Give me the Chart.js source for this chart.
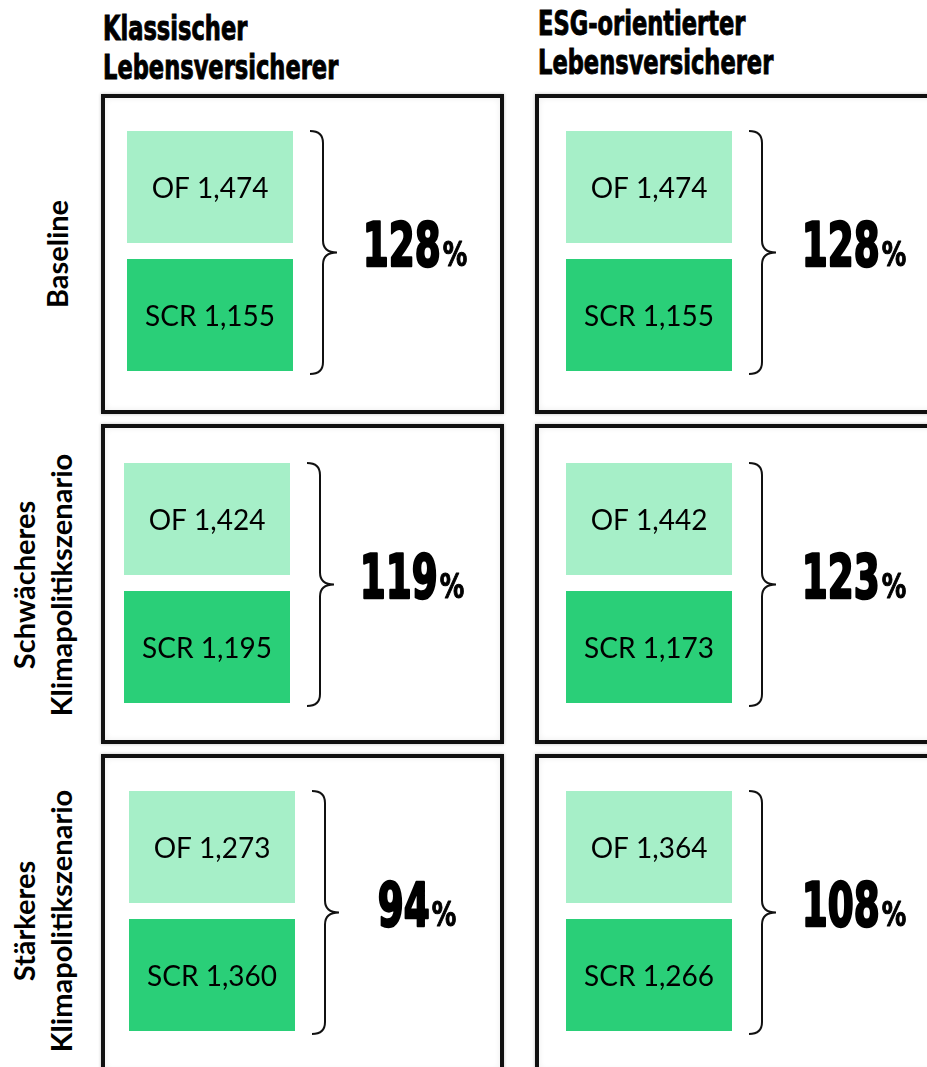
<!DOCTYPE html>
<html lang="de">
<head>
<meta charset="utf-8">
<title>Solvenzquote nach Klimaszenario</title>
<script src="https://cdn.jsdelivr.net/npm/chart.js@4.4.1/dist/chart.umd.min.js"></script>
<style>
  html, body { margin: 0; padding: 0; background: #fff; }
  body { width: 927px; height: 1067px; position: relative; overflow: hidden; }
  .head {
    position: absolute;
    font-family: 'DejaVu Sans Condensed', 'DejaVu Sans', sans-serif;
    font-weight: bold; font-size: 33px; line-height: 39px;
    color: #000; white-space: nowrap;
    -webkit-text-stroke: 0.9px #000;
    transform: scaleX(0.76); transform-origin: 0 0;
  }
  .row {
    position: absolute;
    font-family: Lato, sans-serif; font-weight: bold;
    font-size: 29px; line-height: 37px; text-align: center;
    white-space: nowrap; color: #000;
    transform: translate(-50%, -50%) rotate(-90deg);
  }
  .box {
    position: absolute; box-sizing: border-box;
    border: 4px solid #111; background: #fff;
    box-shadow: inset 0 0 6px rgba(0,0,0,0.08), 0 0 3px rgba(0,0,0,0.25);
  }
  canvas { position: absolute; }
</style>
</head>
<body>
<script>
// column headers and scenario names
const columns = [['Klassischer', 'Lebensversicherer'], ['ESG-orientierter', 'Lebensversicherer']];
const scenarios = [['Baseline'], ['Schwächeres', 'Klimapolitikszenario'], ['Stärkeres', 'Klimapolitikszenario']];
const cellLabels = ['OF', 'SCR'];

// OF / SCR per scenario (Baseline, schwächer, stärker)
const ofKlassisch = [1.474, 1.424, 1.273];
const scrKlassisch = [1.155, 1.195, 1.360];
const ratioKlassisch = [128, 119, 94];

const ofEsg = [1.474, 1.442, 1.364];
const scrEsg = [1.155, 1.173, 1.266];
const ratioEsg = [128, 123, 108];

const OF_COLOR = '#a6efc8';
const SCR_COLOR = '#2acf78';
const BIG_FONT = '"DejaVu Sans Condensed", "DejaVu Sans", sans-serif';

// page layout (pixels)
const boxLeft = [101, 535];
const boxTop = [94, 424, 754];
const headPos = [[103, 9], [538, 4]];
const rowCenter = [[56, 254], [42, 585], [42, 921]];
const cellLeft = [[127, 124, 129], [566, 566, 566]];
const cellTop = [131, 463, 791];

function fmt(v) {
  return v.toFixed(3).replace('.', ',');
}

// headers
columns.forEach((lines, c) => {
  const d = document.createElement('div');
  d.className = 'head';
  d.style.left = headPos[c][0] + 'px';
  d.style.top = headPos[c][1] + 'px';
  d.innerHTML = lines.join('<br>');
  document.body.appendChild(d);
});

// row labels
scenarios.forEach((lines, r) => {
  const d = document.createElement('div');
  d.className = 'row';
  d.style.left = rowCenter[r][0] + 'px';
  d.style.top = rowCenter[r][1] + 'px';
  d.innerHTML = lines.join('<br>');
  document.body.appendChild(d);
});

// text in cells, brace and ratio
const panelLabels = {
  id: 'panelLabels',
  afterDatasetsDraw(chart, args, opts) {
    const ctx = chart.ctx;
    const area = chart.chartArea;
    const ofBar = chart.getDatasetMeta(0).data[0];
    const scrBar = chart.getDatasetMeta(1).data[1];
    ctx.save();
    ctx.fillStyle = '#000';
    ctx.font = '28px Lato';
    ctx.textAlign = 'center';
    ctx.textBaseline = 'alphabetic';
    ctx.fillText(cellLabels[0] + ' ' + fmt(opts.of), (ofBar.base + ofBar.x) / 2, ofBar.y + 11);
    ctx.fillText(cellLabels[1] + ' ' + fmt(opts.scr), (scrBar.base + scrBar.x) / 2, scrBar.y + 11);

    // curly brace
    const top = ofBar.y - ofBar.height / 2;
    const bottom = scrBar.y + scrBar.height / 2 + 3;
    const mid = (top + bottom) / 2;
    const x0 = area.right + 17, x1 = area.right + 30, x2 = area.right + 44;
    const k = 12;
    ctx.beginPath();
    ctx.moveTo(x0, top);
    ctx.quadraticCurveTo(x1, top, x1, top + k);
    ctx.lineTo(x1, mid - k);
    ctx.quadraticCurveTo(x1, mid, x2, mid);
    ctx.quadraticCurveTo(x1, mid, x1, mid + k);
    ctx.lineTo(x1, bottom - k);
    ctx.quadraticCurveTo(x1, bottom, x0, bottom);
    ctx.lineWidth = 2;
    ctx.strokeStyle = '#111';
    ctx.stroke();

    // ratio
    const cx = area.right + 122;
    const base = mid + 13;
    const sx = 0.68, px = 0.8;
    const digits = String(opts.ratio);
    ctx.textAlign = 'left';
    ctx.strokeStyle = '#000';
    ctx.lineJoin = 'round';
    ctx.font = 'bold 61px ' + BIG_FONT;
    const dw = ctx.measureText(digits).width * sx;
    ctx.font = 'bold 34px ' + BIG_FONT;
    const pw = ctx.measureText('%').width * px;
    const start = cx - (dw + pw + 2) / 2;
    ctx.save();
    ctx.translate(start, base);
    ctx.scale(sx, 1);
    ctx.font = 'bold 61px ' + BIG_FONT;
    ctx.lineWidth = 2.5;
    ctx.fillText(digits, 0, 0);
    ctx.strokeText(digits, 0, 0);
    ctx.restore();
    ctx.save();
    ctx.translate(start + dw + 2, base);
    ctx.scale(px, 1);
    ctx.font = 'bold 34px ' + BIG_FONT;
    ctx.lineWidth = 1;
    ctx.fillText('%', 0, 0);
    ctx.strokeText('%', 0, 0);
    ctx.restore();
    ctx.restore();
  }
};

function makePanel(c, r) {
  const of = c === 0 ? ofKlassisch : ofEsg;
  const scr = c === 0 ? scrKlassisch : scrEsg;
  const ratio = c === 0 ? ratioKlassisch : ratioEsg;

  const box = document.createElement('div');
  box.className = 'box';
  box.style.left = boxLeft[c] + 'px';
  box.style.top = boxTop[r] + 'px';
  box.style.width = '403px';
  box.style.height = '320px';
  document.body.appendChild(box);

  const canvas = document.createElement('canvas');
  const ox = boxLeft[c] + 4, oy = boxTop[r] + 4;
  canvas.width = 395;
  canvas.height = 312;
  canvas.style.left = ox + 'px';
  canvas.style.top = oy + 'px';
  document.body.appendChild(canvas);

  const left = cellLeft[c][r] - ox;
  const top = cellTop[r] - 8 - oy;

  new Chart(canvas, {
    type: 'bar',
    data: {
      labels: cellLabels,
      datasets: [
        { label: 'OF', data: [of[r], null], xAxisID: 'xOF', backgroundColor: OF_COLOR },
        { label: 'SCR', data: [null, scr[r]], xAxisID: 'xSCR', backgroundColor: SCR_COLOR }
      ]
    },
    options: {
      indexAxis: 'y',
      responsive: false,
      animation: false,
      devicePixelRatio: 1,
      grouped: false,
      barPercentage: 0.875,
      categoryPercentage: 1,
      layout: {
        padding: { left: left, top: top, right: 395 - left - 166, bottom: 312 - top - 256 }
      },
      scales: {
        y: { type: 'category', display: false },
        xOF: { type: 'linear', axis: 'x', display: false, min: 0, max: of[r] },
        xSCR: { type: 'linear', axis: 'x', display: false, min: 0, max: scr[r] }
      },
      plugins: {
        legend: { display: false },
        tooltip: { enabled: false },
        panelLabels: { of: of[r], scr: scr[r], ratio: ratio[r] }
      }
    },
    plugins: [panelLabels]
  });
}

for (let r = 0; r < 3; r++) {
  for (let c = 0; c < 2; c++) makePanel(c, r);
}
</script>
</body>
</html>
